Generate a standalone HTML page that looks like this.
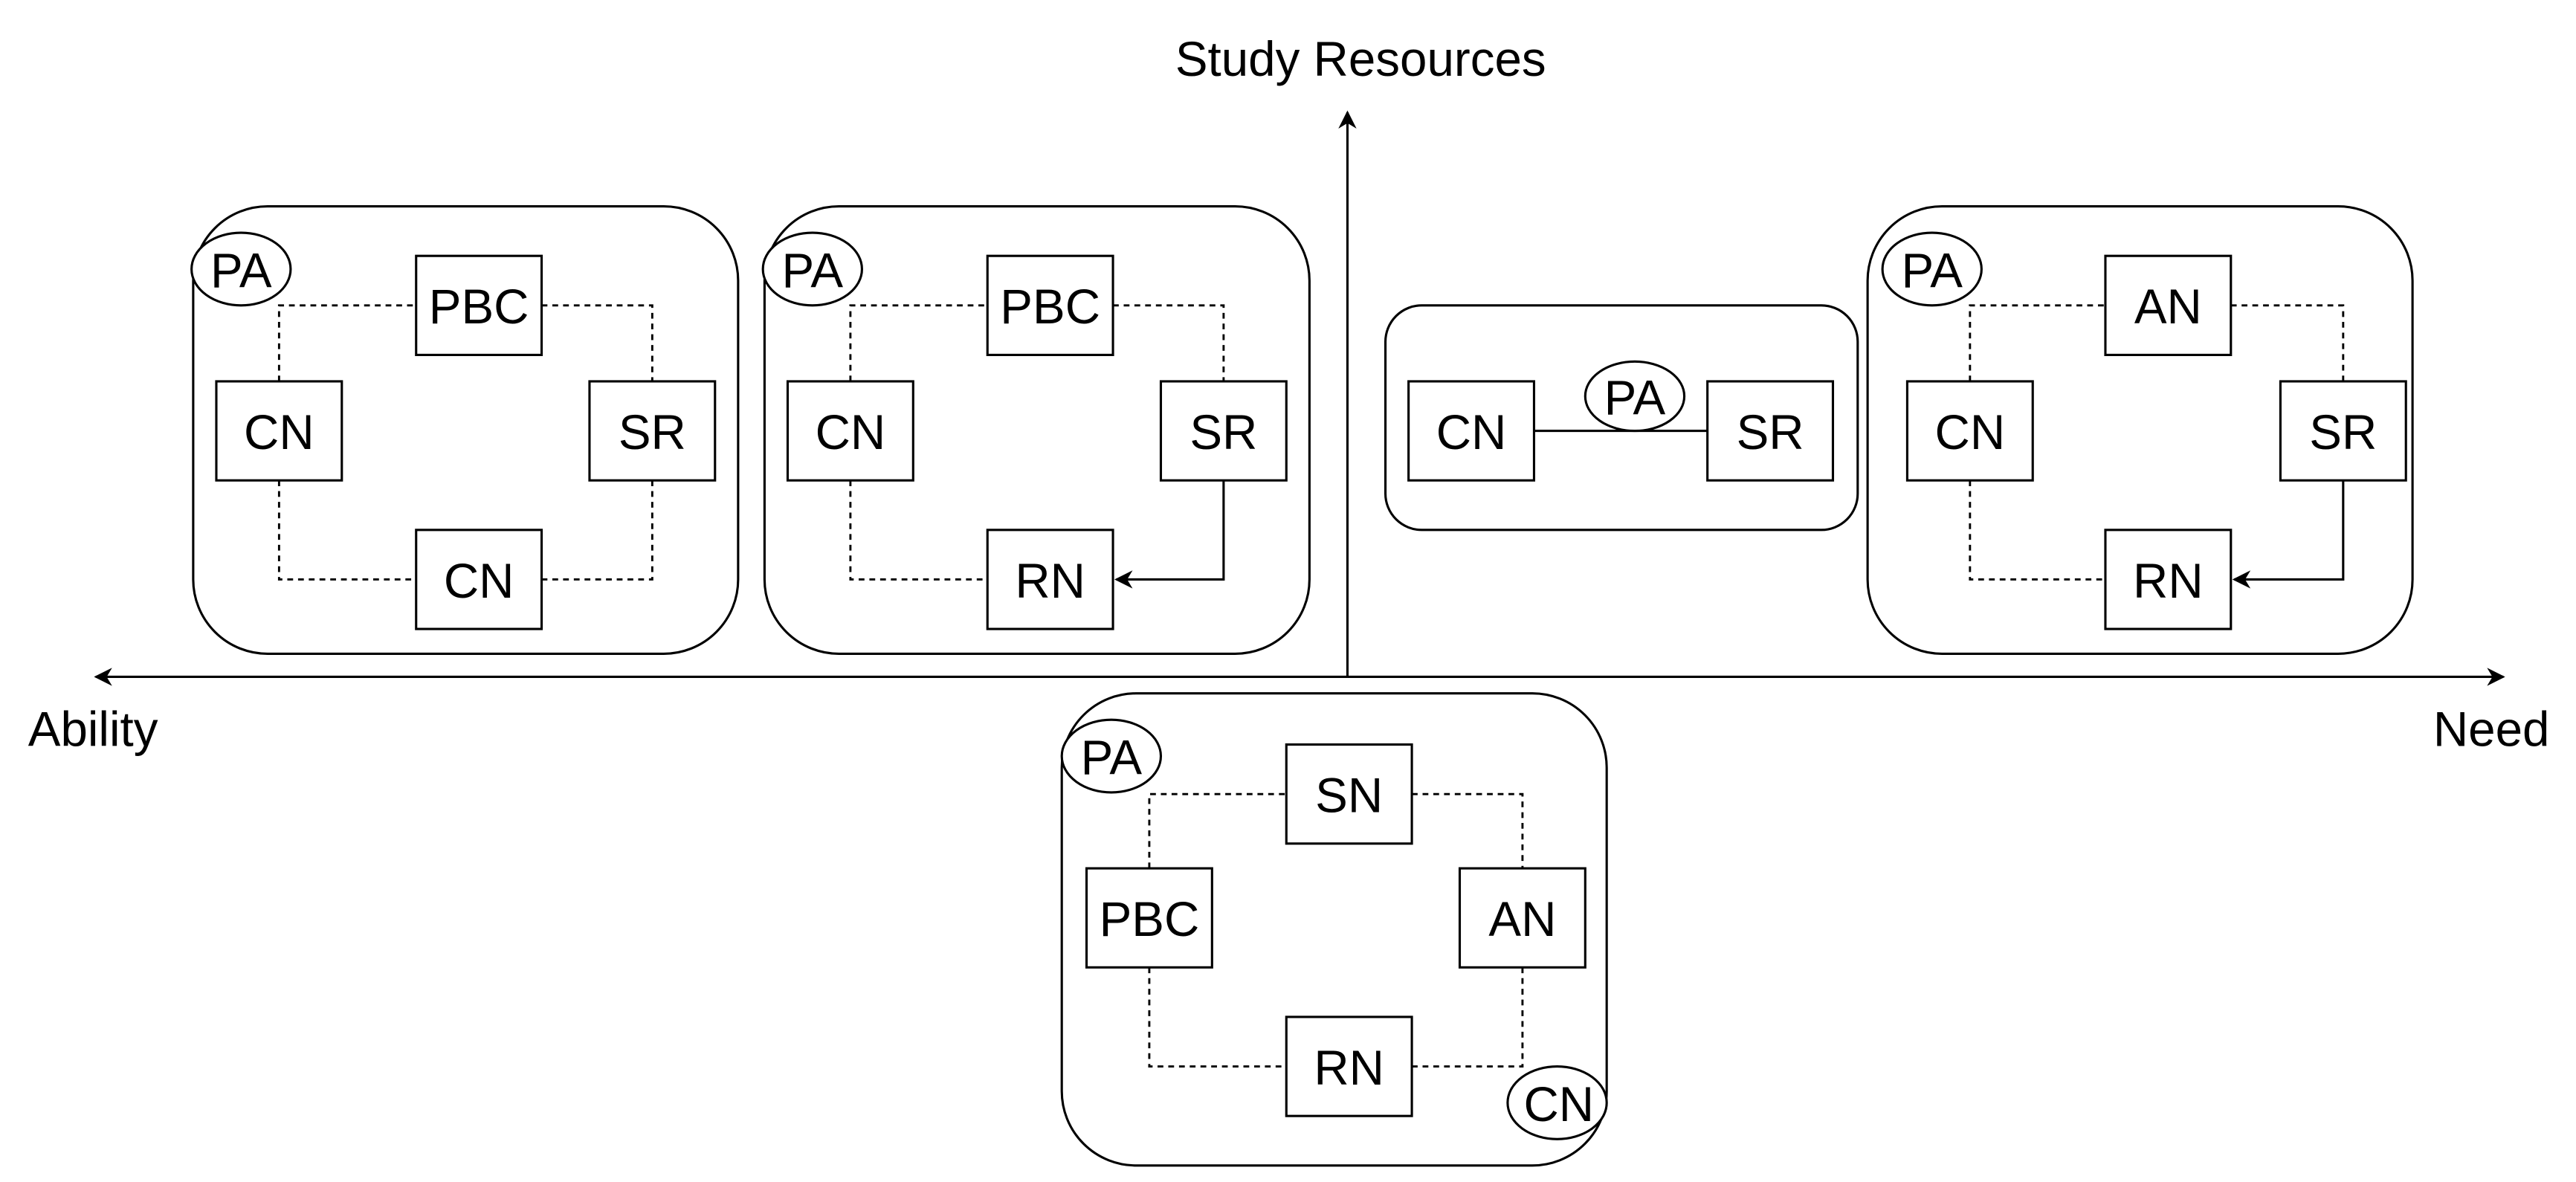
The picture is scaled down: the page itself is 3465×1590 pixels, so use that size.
<!DOCTYPE html>
<html><head><meta charset="utf-8"><style>html,body{margin:0;padding:0;background:#fff}svg{display:block}</style></head>
<body>
<svg width="3465" height="1590" viewBox="0 0 1560 716" preserveAspectRatio="none" xmlns="http://www.w3.org/2000/svg" font-family="Liberation Sans, Arial, sans-serif" font-size="29.5" fill="none" stroke="#000" stroke-width="1.4">
<defs><marker id="ar" viewBox="0 0 10 10" refX="9" refY="5" markerWidth="11" markerHeight="11" markerUnits="userSpaceOnUse" orient="auto"><path d="M0,0 L10,5 L0,10 L3,5 Z" fill="#000" stroke="none"/></marker></defs>
<!-- axes -->
<line x1="816" y1="410" x2="816" y2="68" marker-end="url(#ar)"/>
<line x1="816" y1="410" x2="58" y2="410" marker-end="url(#ar)"/>
<line x1="816" y1="410" x2="1516" y2="410" marker-end="url(#ar)"/>
<g fill="#000" stroke="none">
<text x="824" y="46" text-anchor="middle">Study Resources</text>
<text x="17" y="452">Ability</text>
<text x="1544" y="452" text-anchor="end">Need</text>
</g>
<!-- Box1 -->
<rect x="117" y="125" width="330" height="271" rx="45" ry="45"/>
<g stroke-dasharray="3.5 3" stroke-width="1.3">
<path d="M169,231 V185 H252 M328,185 H395 V231 M169,291 V351 H252 M328,351 H395 V291"/>
</g>
<ellipse cx="146" cy="163" rx="30" ry="22" fill="#fff"/>
<rect x="252" y="155" width="76" height="60" fill="#fff"/>
<rect x="131" y="231" width="76" height="60" fill="#fff"/>
<rect x="357" y="231" width="76" height="60" fill="#fff"/>
<rect x="252" y="321" width="76" height="60" fill="#fff"/>
<g fill="#000" stroke="none" text-anchor="middle">
<text x="146" y="174">PA</text><text x="290" y="196">PBC</text><text x="169" y="272">CN</text><text x="395" y="272">SR</text><text x="290" y="362">CN</text>
</g>
<!-- Box2 -->
<rect x="463" y="125" width="330" height="271" rx="45" ry="45"/>
<g stroke-dasharray="3.5 3" stroke-width="1.3"><path d="M515,231 V185 H598 M674,185 H741 V231 M515,291 V351 H598"/></g>
<path d="M741,291 V351 H676" marker-end="url(#ar)"/>
<ellipse cx="492" cy="163" rx="30" ry="22" fill="#fff"/>
<rect x="598" y="155" width="76" height="60" fill="#fff"/>
<rect x="477" y="231" width="76" height="60" fill="#fff"/>
<rect x="703" y="231" width="76" height="60" fill="#fff"/>
<rect x="598" y="321" width="76" height="60" fill="#fff"/>
<g fill="#000" stroke="none" text-anchor="middle">
<text x="492" y="174">PA</text><text x="636" y="196">PBC</text><text x="515" y="272">CN</text><text x="741" y="272">SR</text><text x="636" y="362">RN</text>
</g>
<!-- Box3 -->
<rect x="839" y="185" width="286" height="136" rx="22" ry="22"/>
<line x1="929" y1="261" x2="1034" y2="261"/>
<rect x="853" y="231" width="76" height="60" fill="#fff"/>
<rect x="1034" y="231" width="76" height="60" fill="#fff"/>
<ellipse cx="990" cy="240" rx="30" ry="21" fill="#fff"/>
<g fill="#000" stroke="none" text-anchor="middle">
<text x="891" y="272">CN</text><text x="1072" y="272">SR</text><text x="990" y="251">PA</text>
</g>
<!-- Box4 -->
<rect x="1131" y="125" width="330" height="271" rx="45" ry="45"/>
<g stroke-dasharray="3.5 3" stroke-width="1.3"><path d="M1193,231 V185 H1275 M1351,185 H1419 V231 M1193,291 V351 H1275"/></g>
<path d="M1419,291 V351 H1353" marker-end="url(#ar)"/>
<ellipse cx="1170" cy="163" rx="30" ry="22" fill="#fff"/>
<rect x="1275" y="155" width="76" height="60" fill="#fff"/>
<rect x="1155" y="231" width="76" height="60" fill="#fff"/>
<rect x="1381" y="231" width="76" height="60" fill="#fff"/>
<rect x="1275" y="321" width="76" height="60" fill="#fff"/>
<g fill="#000" stroke="none" text-anchor="middle">
<text x="1170" y="174">PA</text><text x="1313" y="196">AN</text><text x="1193" y="272">CN</text><text x="1419" y="272">SR</text><text x="1313" y="362">RN</text>
</g>
<!-- Box5 -->
<rect x="643" y="420" width="330" height="286" rx="45" ry="45"/>
<g stroke-dasharray="3.5 3" stroke-width="1.3"><path d="M696,526 V481 H779 M855,481 H922 V526 M696,586 V646 H779 M855,646 H922 V586"/></g>
<ellipse cx="673" cy="458" rx="30" ry="22" fill="#fff"/>
<ellipse cx="943" cy="668" rx="30" ry="22" fill="#fff"/>
<rect x="779" y="451" width="76" height="60" fill="#fff"/>
<rect x="658" y="526" width="76" height="60" fill="#fff"/>
<rect x="884" y="526" width="76" height="60" fill="#fff"/>
<rect x="779" y="616" width="76" height="60" fill="#fff"/>
<g fill="#000" stroke="none" text-anchor="middle">
<text x="673" y="469">PA</text><text x="817" y="492">SN</text><text x="696" y="567">PBC</text><text x="922" y="567">AN</text><text x="817" y="657">RN</text><text x="944" y="679">CN</text>
</g>
</svg>
</body></html>
